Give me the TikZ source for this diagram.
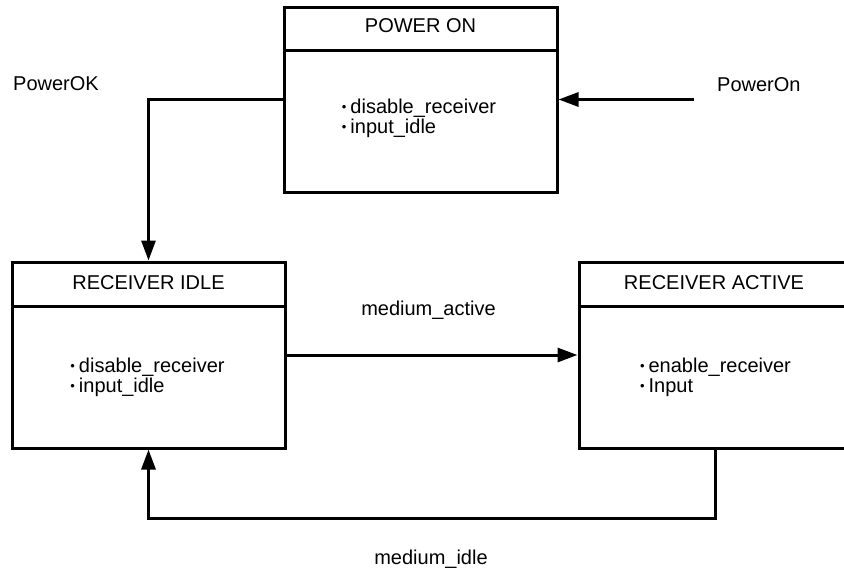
\documentclass[tikz,border=0pt]{standalone}
\usepackage{fontspec}
\setmainfont{Liberation Sans}
\usetikzlibrary{arrows.meta}
\newcommand{\smbullet}{\raisebox{2pt}{\fontsize{13}{13}\selectfont •}\hspace{4pt}}
\begin{document}
\begin{tikzpicture}[x=1pt,y=-1pt,
  state/.style={draw, line width=3pt, rectangle, minimum width=273pt, minimum height=186pt, inner sep=0pt},
  title/.style={anchor=base, font=\fontsize{20}{20}\selectfont, inner sep=0pt},
  body/.style={align=left, font=\fontsize{20}{20}\selectfont, inner sep=0pt},
  lbl/.style={anchor=base, font=\fontsize{20}{20}\selectfont, inner sep=0pt},
  conn/.style={line width=3pt, -{Triangle[length=20pt,width=14pt]}},
  divider/.style={line width=3pt}
]
\useasboundingbox (0,0) rectangle (844,573);

% states
\node[state, minimum height=185pt] (po) at (420.5,99.5) {};
\node[state] (ri) at (148.5,355) {};
\node[state, minimum width=272pt] (ra) at (715,355) {};

% header dividers
\draw[divider] ([yshift=-45pt]po.north west) -- ([yshift=-45pt]po.north east);
\draw[divider] ([yshift=-46pt]ri.north west) -- ([yshift=-46pt]ri.north east);
\draw[divider] ([yshift=-46pt]ra.north west) -- ([yshift=-46pt]ra.north east);

% titles
\node[title] (pot) at (420.5,32) {POWER ON};
\node[title] (rit) at (148.5,289) {RECEIVER IDLE};
\node[title] (rat) at (714,289) {RECEIVER ACTIVE};

% bodies
\node[body] (pob) at (419,118) {\smbullet disable\_receiver\\\smbullet input\_idle};
\node[body] (rib) at (147.5,377) {\smbullet disable\_receiver\\\smbullet input\_idle};
\node[body] (rab) at (715.5,377) {\smbullet enable\_receiver\\\smbullet Input};

% labels
\node[lbl, anchor=base west] (pok) at (13,90) {PowerOK};
\node[lbl, anchor=base west] (pon) at (717,91) {PowerOn};
\node[lbl] (ma) at (428.5,315) {medium\_active};
\node[lbl] (mi) at (431,564) {medium\_idle};

% connectors
\coordinate (ponstart) at (694,99.5);
\draw[conn] (ponstart) -- (po.east);
\draw[conn] (po.west) -| (ri.north);
\draw[conn] (ri.east) -- (ra.west);
\draw[conn] (ra.south) -- ++(0,69) -| (ri.south);
\end{tikzpicture}
\end{document}
